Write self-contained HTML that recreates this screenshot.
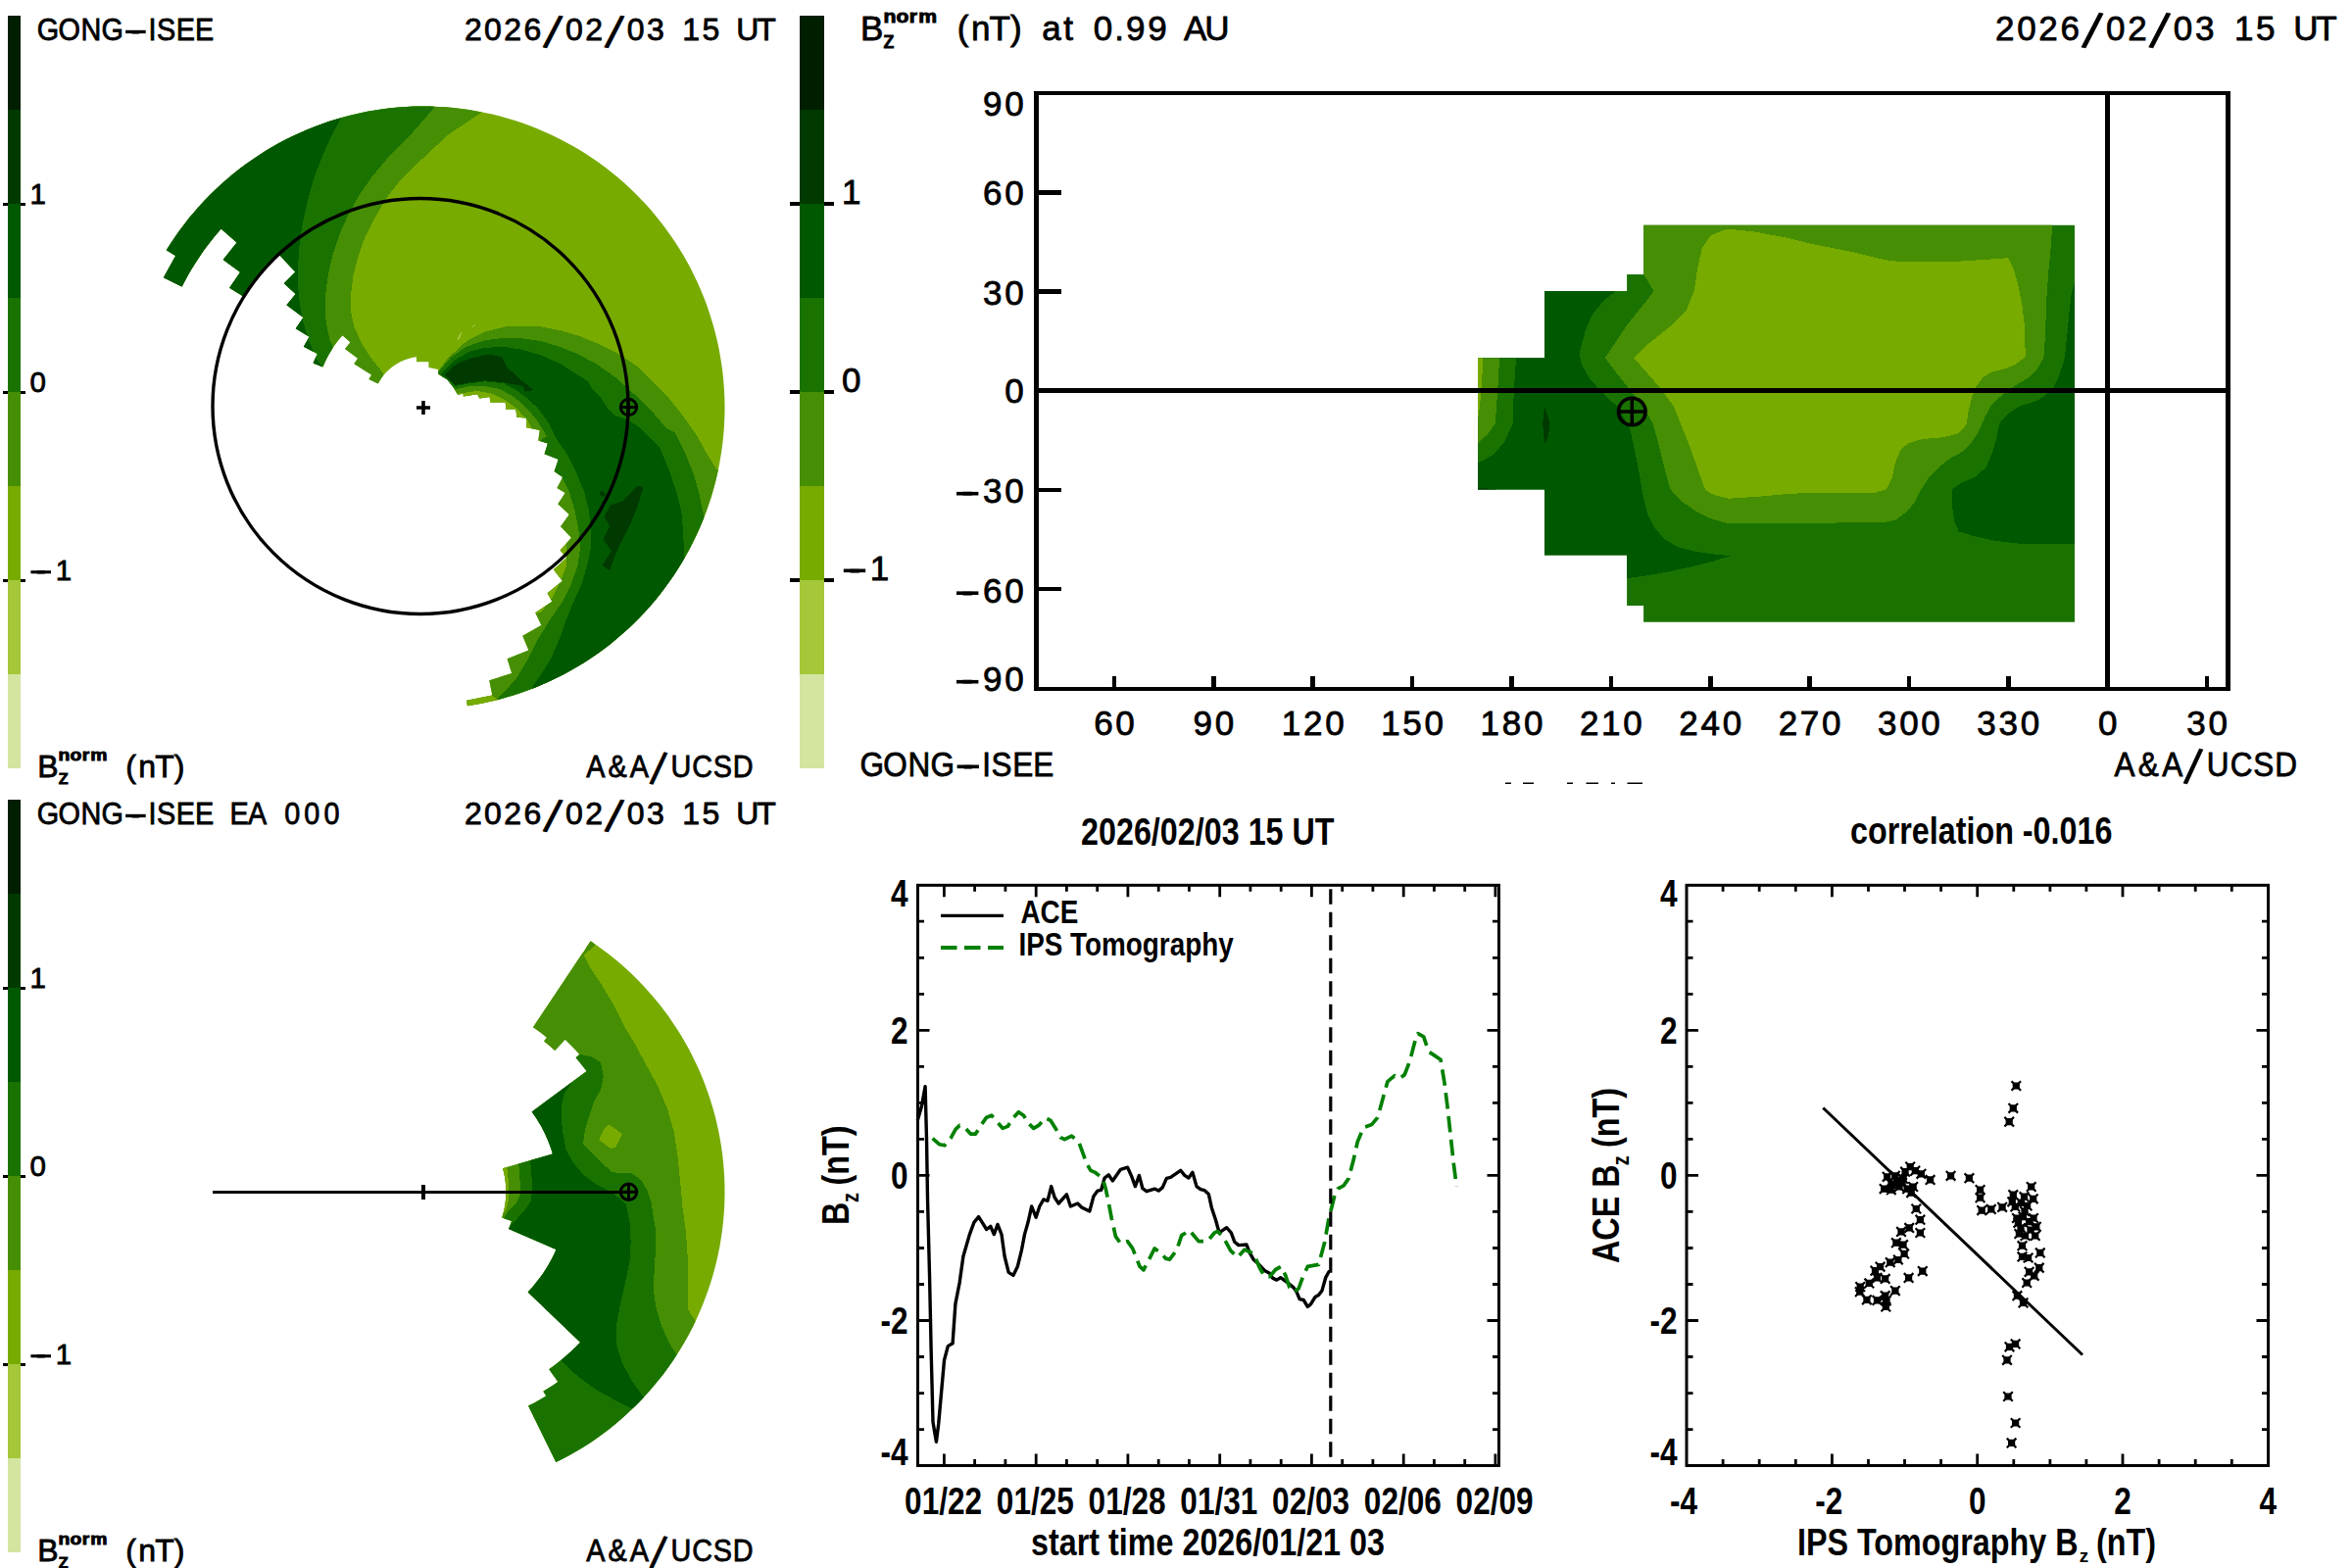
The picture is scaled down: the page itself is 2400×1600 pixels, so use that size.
<!DOCTYPE html>
<html><head><meta charset="utf-8"><title>IPS Tomography Bz</title>
<style>html,body{margin:0;padding:0;background:#fff}svg{display:block}
text{font-family:"Liberation Sans",sans-serif;fill:#000}
</style></head><body>
<svg width="2400" height="1600" viewBox="0 0 2400 1600">
<rect width="2400" height="1600" fill="#fff"/>
<clipPath id="c1"><polygon points="169.8,255.3 174.1,248.5 178.5,241.9 183.2,235.3 188.0,228.9 192.9,222.6 198.1,216.4 203.3,210.4 208.8,204.5 214.4,198.8 220.1,193.2 226.0,187.7 232.0,182.4 238.2,177.3 244.5,172.3 250.9,167.5 257.4,162.9 264.1,158.4 270.9,154.1 277.7,150.0 284.7,146.1 291.8,142.3 299.0,138.8 306.3,135.4 313.6,132.2 321.1,129.2 328.6,126.4 336.2,123.8 343.8,121.4 351.5,119.2 359.3,117.2 367.1,115.4 375.0,113.8 382.9,112.4 390.8,111.3 398.8,110.3 406.7,109.5 414.7,109.0 422.8,108.6 430.8,108.5 438.8,108.6 446.8,108.9 454.8,109.3 462.8,110.0 470.8,111.0 478.7,112.1 486.6,113.4 494.5,114.9 502.3,116.6 510.1,118.6 517.8,120.7 525.5,123.1 533.1,125.6 540.6,128.3 548.1,131.3 555.5,134.4 562.8,137.7 570.0,141.2 577.1,144.9 584.1,148.8 591.1,152.8 597.9,157.1 604.6,161.5 611.1,166.1 617.6,170.8 623.9,175.7 630.1,180.8 636.2,186.1 642.1,191.5 647.9,197.0 653.5,202.7 659.0,208.6 664.4,214.6 669.5,220.7 674.5,227.0 679.4,233.4 684.1,239.9 688.6,246.5 692.9,253.3 697.1,260.1 701.0,267.1 704.8,274.1 708.4,281.3 711.8,288.6 715.1,295.9 718.1,303.3 721.0,310.8 723.6,318.4 726.0,326.0 728.3,333.7 730.3,341.5 732.2,349.3 733.8,357.1 735.2,365.0 736.5,372.9 737.5,380.9 738.3,388.9 738.9,396.9 739.3,404.9 739.5,412.9 739.5,420.9 739.2,428.9 738.8,436.9 738.1,444.9 737.3,452.9 736.2,460.8 734.9,468.8 733.5,476.6 731.8,484.5 729.9,492.3 727.8,500.0 725.5,507.7 723.0,515.3 720.3,522.9 717.4,530.4 714.4,537.8 711.1,545.1 707.6,552.3 704.0,559.5 700.1,566.5 696.1,573.4 691.9,580.3 687.6,587.0 683.0,593.6 678.3,600.1 673.4,606.5 668.4,612.7 663.2,618.8 657.8,624.7 652.3,630.6 646.6,636.2 640.8,641.7 634.8,647.1 628.7,652.3 622.5,657.4 616.2,662.3 609.7,667.0 603.1,671.5 596.3,675.9 589.5,680.1 582.6,684.1 575.5,687.9 568.4,691.6 561.2,695.1 553.8,698.3 546.4,701.4 539.0,704.3 531.4,707.0 523.8,709.5 516.1,711.8 508.4,713.9 500.6,715.8 492.7,717.4 484.8,718.9 476.9,720.2 476.3,714.7 502.3,709.5 499.3,694.2 522.2,687.1 517.6,672.2 539.4,663.6 533.3,648.8 552.4,638.1 546.3,625.3 563.3,613.8 558.6,605.2 573.9,592.8 564.9,581.3 578.3,568.9 571.6,561.6 583.0,548.8 572.1,537.3 580.8,524.9 569.3,514.3 576.7,503.1 568.4,498.0 574.2,486.9 565.6,481.1 569.8,468.7 555.6,463.3 558.9,452.4 549.3,449.6 550.7,439.0 537.3,436.2 536.9,426.6 527.3,425.7 526.4,417.6 516.2,417.6 515.8,410.4 500.5,410.4 499.6,405.0 489.4,406.5 487.1,402.3 472.8,404.6 472.8,401.7 467.0,402.7 462.3,395.0 456.5,387.4 447.0,381.7 447.0,376.9 437.4,375.0 437.4,369.2 425.0,369.2 425.0,364.4 424.7,364.2 421.2,364.8 417.8,365.7 414.4,366.7 411.2,368.0 408.0,369.5 404.9,371.3 401.9,373.2 399.1,375.3 396.4,377.7 393.9,380.1 391.6,382.8 389.4,385.6 387.5,388.5 385.7,391.6 376.4,387.0 379.1,382.4 361.3,371.2 365.1,365.7 352.0,356.0 357.5,349.3 349.5,342.2 349.5,342.2 347.0,345.1 344.6,348.1 342.3,351.1 340.1,354.2 338.1,357.4 336.1,360.7 334.3,364.0 332.5,367.4 330.9,370.9 329.4,374.4 319.6,370.4 323.9,360.9 309.9,353.8 315.6,343.8 301.8,335.3 309.5,324.0 292.5,311.2 301.7,299.9 289.8,289.3 301.4,277.4 284.7,259.7 284.7,259.7 279.7,264.6 274.8,269.6 270.1,274.9 265.5,280.2 261.2,285.8 257.0,291.4 253.0,297.2 249.2,303.1 234.2,293.8 245.1,277.7 227.7,264.9 241.7,247.6 225.6,233.4 225.6,233.4 219.8,240.2 214.2,247.2 208.8,254.3 203.7,261.7 198.8,269.2 194.1,276.8 189.7,284.7 185.6,292.6 166.9,283.2 179.2,261.1"/></clipPath>
<g clip-path="url(#c1)" shape-rendering="crispEdges">
<rect x="100" y="80" width="680" height="680" fill="#77ab00"/>
<polygon points="491.8,60.0 491.8,114.4 457.4,137.4 428.7,164.2 408.3,184.2 394.9,201.4 382.4,222.4 371.9,243.5 365.2,262.6 360.4,281.7 358.1,300.9 358.5,320.0 361.4,333.4 368.1,348.7 377.7,364.0 391.4,381.2 385.0,420.0 100.0,420.0 100.0,60.0" fill="#468e04" />
<polygon points="444.5,60.0 444.5,108.2 421.7,134.4 398.7,157.4 379.6,180.3 366.2,199.5 355.7,218.6 347.0,237.7 340.4,256.9 335.6,276.0 332.7,295.1 331.7,310.4 332.7,329.6 336.5,346.8 339.8,354.4 330.0,380.0 100.0,420.0 100.0,60.0" fill="#1a7300" />
<polygon points="348.0,60.0 348.0,120.1 338.4,138.3 329.8,157.4 322.2,176.5 316.4,195.7 311.7,214.8 307.8,233.9 305.3,253.0 304.0,272.2 304.0,291.3 305.9,310.4 309.7,329.6 315.5,348.7 323.1,365.9 327.0,372.0 332.0,381.0 315.0,392.0 100.0,420.0 100.0,60.0" fill="#005800" />
<polygon points="466.5,346.0 470.5,339.0 471.0,341.0 468.0,347.0" fill="#a5c73a" />
<polygon points="481.0,334.0 485.0,330.5 484.0,333.0" fill="#a5c73a" />
<polygon points="447.8,377.5 457.4,365.0 476.5,347.8 495.7,338.3 514.8,333.5 533.9,332.5 553.0,333.5 572.2,337.3 591.3,343.0 610.4,350.7 629.6,360.3 648.7,372.7 663.5,387.4 682.6,406.5 697.9,425.7 711.3,444.8 721.8,463.9 731.4,479.2 800.0,480.0 800.0,800.0 450.0,800.0 450.0,720.0 540.0,600.0 560.0,500.0 540.0,445.0 500.0,418.0 465.0,408.0 447.0,388.0" fill="#468e04" />
<polygon points="467.0,401.7 487.1,398.9 502.4,401.7 515.8,408.4 527.3,417.0 538.8,429.5 542.6,437.1 530.0,445.0 500.0,420.0 465.0,410.0" fill="#77ab00" />
<polygon points="576.5,545.0 578.3,557.4 578.3,576.5 572.5,591.8 563.9,609.0 552.4,624.4 546.0,626.5 538.0,628.0 545.0,600.0 560.0,560.0 565.0,545.0" fill="#77ab00" />
<polygon points="470.0,712.0 476.0,722.0 510.0,716.0 498.0,706.0" fill="#77ab00" />
<polygon points="447.0,380.0 460.4,364.4 475.7,353.9 494.8,347.2 513.9,344.9 533.0,345.3 552.2,348.2 571.3,353.9 590.4,361.6 609.6,372.1 628.7,385.5 647.8,402.7 667.0,421.8 680.0,437.1 688.3,441.0 699.8,463.9 707.5,483.1 713.2,502.2 717.0,521.3 718.5,527.0 800.0,527.0 800.0,800.0 507.5,800.0 507.5,713.3 514.2,706.6 527.6,691.3 539.0,672.2 548.6,653.0 560.1,633.9 573.5,614.8 583.0,595.7 589.7,576.5 592.2,557.4 590.4,540.5 586.6,521.3 580.9,502.2 574.2,488.8 560.0,485.0 545.0,455.0 557.9,444.8 548.4,429.5 538.8,418.0 525.4,405.6 510.1,397.0 494.8,394.1 479.5,394.1 465.1,397.0 456.0,390.0" fill="#1a7300" />
<polygon points="449.8,382.0 464.2,367.3 479.5,358.7 494.8,354.9 513.9,353.9 533.0,356.8 552.2,362.5 571.3,371.1 586.6,380.7 600.0,389.3 604.2,397.0 613.7,406.5 619.5,416.1 627.1,423.7 638.6,427.6 650.1,434.3 661.6,444.8 673.0,456.3 682.6,479.2 690.3,502.2 695.1,521.3 697.0,540.5 697.9,559.6 698.3,568.2 760.0,600.0 760.0,760.0 560.0,760.0 542.9,701.8 552.4,687.5 562.0,672.2 570.6,653.0 577.3,633.9 585.0,614.8 593.6,595.7 599.3,576.5 602.8,559.6 603.1,540.5 601.0,521.3 596.2,502.2 588.5,483.1 579.0,463.9 569.4,450.5 559.8,431.4 548.4,416.1 536.9,405.6 525.4,397.0 513.9,391.2 494.8,389.3 479.5,391.2 464.2,394.1 458.0,388.0" fill="#005800" />
<polygon points="453.7,382.6 466.1,371.1 481.4,365.4 498.6,361.6 512.0,364.0 517.7,375.0 531.1,387.4 544.5,397.9 535.9,399.8 534.0,394.1 513.9,390.3 494.8,388.3 479.5,390.3 464.2,393.1 459.4,388.4" fill="#003a00" />
<polygon points="650.7,495.5 656.4,497.4 651.7,513.7 644.0,532.8 634.4,551.9 626.8,569.1 622.0,582.5 614.4,576.8 623.9,562.4 615.3,550.0 622.0,536.6 616.3,527.0 623.0,515.6 634.4,511.7 644.0,502.2" fill="#003a00" />
<polygon points="611.5,503.0 615.0,500.3 618.2,505.0 615.0,507.5" fill="#003a00" />
</g>
<ellipse cx="429" cy="414.5" rx="212" ry="212" fill="none" stroke="#000" stroke-width="3.4"/>
<path d="M425 416H439M432 409V423" stroke="#000" stroke-width="3.6" fill="none"/>
<g stroke="#000" stroke-width="3" fill="none"><circle cx="641.5" cy="415.5" r="8.2"/><path d="M633 415.5H650M641.5 407V424"/></g>
<clipPath id="c2"><polygon points="1508.0,365.2 1576.0,365.2 1576.0,297.1 1660.1,297.1 1660.1,279.9 1677.1,279.9 1677.1,229.7 2117.0,229.7 2117.0,634.8 1677.1,634.8 1677.1,617.9 1660.1,617.9 1660.1,566.5 1576.0,566.5 1576.0,499.6 1508.0,499.6"/></clipPath>
<g clip-path="url(#c2)" shape-rendering="crispEdges">
<rect x="1500" y="220" width="630" height="420" fill="#1a7300"/>
<polygon points="1648.5,200.0 1648.5,297.1 1636.3,307.1 1625.1,320.5 1617.3,338.4 1611.7,360.7 1613.9,371.9 1622.9,387.5 1636.3,402.0 1649.6,414.3 1663.0,436.6 1667.5,456.7 1672.0,479.0 1676.4,505.0 1680.9,523.5 1688.7,539.3 1698.8,550.4 1712.1,558.3 1730.0,562.7 1747.9,565.4 1765.7,567.2 1747.9,572.8 1725.5,578.3 1703.2,583.3 1680.9,587.3 1660.1,590.2 1400.0,590.2 1400.0,200.0" fill="#005800" />
<polygon points="1547.0,300.0 1547.0,365.2 1544.7,400.9 1543.6,432.1 1535.8,450.0 1524.6,463.4 1507.9,472.8 1400.0,472.8 1400.0,300.0" fill="#1a7300" />
<polygon points="1530.2,300.0 1530.2,365.2 1528.0,400.9 1525.8,432.1 1517.9,443.3 1507.9,452.2 1400.0,452.2 1400.0,300.0" fill="#468e04" />
<polygon points="1500.0,360.0 1513.5,365.0 1512.0,390.0 1510.0,415.0 1508.0,428.0 1500.0,428.0" fill="#77ab00" />
<polygon points="1576.0,414.3 1581.6,432.1 1579.3,447.8 1576.0,453.3 1574.2,432.1" fill="#003a00" />
<polygon points="1508.0,497.5 1528.0,499.6 1508.0,499.6" fill="#003a00" />
<polygon points="2117.0,287.1 2113.6,300.4 2111.4,320.5 2109.2,342.9 2106.9,365.2 2101.3,383.0 2094.6,396.4 2087.9,403.1 2076.8,409.8 2061.2,414.3 2047.8,423.2 2040.0,432.1 2037.1,447.8 2033.3,461.2 2026.6,476.8 2015.4,486.8 2002.0,492.4 1992.0,499.1 1992.0,517.0 1994.6,532.6 1998.7,542.3 2014.3,547.1 2034.4,551.6 2052.2,553.8 2067.9,555.4 2117.0,554.9 2200.0,554.9 2200.0,287.1" fill="#005800" />
<polygon points="1677.1,279.9 1687.6,297.1 1676.4,311.6 1658.6,333.9 1645.2,354.0 1638.0,365.2 1649.6,380.8 1663.0,397.5 1676.4,414.3 1686.5,432.1 1692.1,452.2 1697.6,474.6 1704.3,499.1 1714.4,510.3 1730.0,521.4 1745.6,529.2 1761.3,533.7 1830.0,534.2 1855.8,533.7 1922.8,533.0 1933.9,530.8 1945.1,522.5 1954.0,512.5 1960.7,499.1 1968.5,486.8 1978.6,476.8 1989.7,467.9 2002.0,461.2 2012.1,451.1 2019.9,438.8 2025.4,425.4 2032.1,413.2 2045.5,400.9 2056.7,393.1 2070.1,385.3 2079.0,376.3 2085.3,365.2 2086.4,351.8 2087.5,327.2 2088.6,300.4 2090.2,278.1 2092.4,255.8 2094.2,229.7 2094.2,200.0 1677.1,200.0" fill="#468e04" />
<polygon points="1762.4,233.5 1745.6,240.2 1736.7,253.6 1732.2,273.7 1728.9,296.0 1721.1,316.1 1703.2,333.9 1680.9,351.8 1667.1,365.2 1680.9,380.8 1694.3,396.4 1707.7,414.3 1716.6,436.6 1725.5,458.9 1733.3,481.3 1740.0,499.6 1747.9,504.7 1763.5,508.7 1792.5,506.9 1822.3,504.2 1840.2,503.1 1913.8,502.7 1925.0,499.1 1930.6,487.9 1933.9,472.3 1939.5,458.9 1947.3,452.2 1960.7,448.2 1983.0,446.2 1998.7,442.2 2006.5,433.3 2008.7,418.8 2012.1,405.4 2016.5,394.2 2023.2,385.3 2032.1,379.7 2045.5,376.3 2056.7,371.9 2066.7,364.1 2066.1,333.9 2063.4,311.6 2058.9,289.3 2054.5,273.7 2048.9,263.2 2034.4,264.3 2000.9,266.5 1956.3,267.4 1929.5,266.3 1911.6,262.5 1889.3,256.9 1867.0,252.5 1844.6,248.0 1822.3,242.4 1800.0,238.4 1792.5,236.8" fill="#77ab00" />
</g>
<g stroke="#000" stroke-width="4.4" fill="none" shape-rendering="crispEdges">
<rect x="1057.5" y="95.0" width="1216.2" height="607.8"/>
<path d="M1057.5 398.5H2273.7 M2150.5 95.0V702.8"/>
<path d="M1057.5 196.2h25M1057.5 297.4h25M1057.5 499.8h25M1057.5 601.0h25M1137.0 702.8v-13M1238.4 702.8v-13M1339.7 702.8v-13M1441.1 702.8v-13M1542.5 702.8v-13M1643.8 702.8v-13M1745.2 702.8v-13M1846.6 702.8v-13M1948.0 702.8v-13M2049.3 702.8v-13M2252.1 702.8v-13" stroke-width="4.6"/>
</g>
<g stroke="#000" stroke-width="3.6" fill="none"><circle cx="1665.3" cy="420" r="13.8"/><path d="M1651.5 420H1679M1665.3 406V434"/></g>
<path d="M1536 799.3h6M1554 799.3h11M1599 799.3h6M1618.5 799.3h12.5M1644 799.3h4M1660.5 799.3h15.5" stroke="#000" stroke-width="1.6"/>
<clipPath id="c3"><polygon points="602.6,960.2 609.2,964.7 615.6,969.4 622.0,974.2 628.2,979.2 634.2,984.3 640.2,989.7 645.9,995.1 651.6,1000.7 657.1,1006.5 662.4,1012.4 667.6,1018.4 672.7,1024.6 677.6,1030.9 682.3,1037.3 686.8,1043.9 691.2,1050.5 695.4,1057.3 699.4,1064.2 703.2,1071.1 706.9,1078.2 710.4,1085.4 713.7,1092.6 716.8,1100.0 719.7,1107.4 722.4,1114.9 724.9,1122.4 727.2,1130.0 729.4,1137.7 731.3,1145.4 733.0,1153.2 734.5,1161.0 735.9,1168.9 737.0,1176.8 737.9,1184.7 738.6,1192.6 739.1,1200.6 739.4,1208.5 739.5,1216.5 739.4,1224.4 739.1,1232.4 738.5,1240.4 737.8,1248.3 736.9,1256.2 735.7,1264.1 734.4,1271.9 732.8,1279.7 731.1,1287.5 729.1,1295.2 727.0,1302.9 724.6,1310.5 722.1,1318.0 719.3,1325.5 716.4,1332.9 713.3,1340.3 710.0,1347.5 706.5,1354.7 702.8,1361.7 698.9,1368.7 694.9,1375.5 690.7,1382.3 686.3,1388.9 681.7,1395.5 677.0,1401.9 672.1,1408.1 667.0,1414.3 661.8,1420.3 656.4,1426.2 650.9,1431.9 645.2,1437.5 639.4,1443.0 633.5,1448.3 627.4,1453.4 621.2,1458.4 614.9,1463.2 608.4,1467.9 601.8,1472.4 595.1,1476.7 588.3,1480.8 581.4,1484.8 574.4,1488.5 567.3,1492.1 539.1,1434.6 539.1,1434.6 545.3,1431.4 551.4,1428.1 557.4,1424.6 554.4,1419.7 554.4,1419.7 559.5,1416.6 564.5,1413.4 569.4,1410.0 560.3,1397.2 560.3,1397.2 566.0,1393.0 571.5,1388.7 576.9,1384.2 582.2,1379.5 587.3,1374.7 592.2,1369.7 538.7,1318.4 538.7,1318.4 542.0,1314.9 545.1,1311.3 548.1,1307.6 551.0,1303.8 553.8,1299.9 556.4,1296.0 558.9,1291.9 561.3,1287.8 563.6,1283.6 565.7,1279.3 567.6,1275.0 519.1,1253.9 519.1,1253.9 520.2,1251.3 521.2,1248.6 522.1,1246.0 512.1,1242.6 512.1,1242.6 512.9,1239.9 513.7,1237.2 514.4,1234.4 514.9,1231.7 515.4,1228.9 515.8,1226.0 516.1,1223.2 516.3,1220.4 516.4,1217.5 516.4,1214.7 516.3,1211.9 516.1,1209.0 515.8,1206.2 515.5,1203.4 515.0,1200.6 514.4,1197.8 513.8,1195.1 513.0,1192.3 564.0,1177.4 564.0,1177.4 562.7,1173.2 561.2,1169.1 559.7,1165.0 558.0,1160.9 556.2,1156.9 554.2,1153.0 552.2,1149.1 550.0,1145.4 547.6,1141.6 545.2,1138.0 542.7,1134.4 598.7,1093.1 598.7,1093.1 595.1,1088.4 591.4,1083.8 587.6,1079.3 591.4,1075.9 591.4,1075.9 586.7,1070.7 581.8,1065.7 576.7,1060.8 566.2,1072.1 566.2,1072.1 562.6,1068.8 558.9,1065.5 555.0,1062.4 558.0,1058.7 558.0,1058.7 553.4,1055.1 548.7,1051.6 543.9,1048.3"/></clipPath>
<g clip-path="url(#c3)" shape-rendering="crispEdges">
<rect x="480" y="900" width="300" height="640" fill="#77ab00"/>
<polygon points="560.0,940.0 593.0,970.0 595.7,974.4 602.4,987.8 613.9,1005.0 625.4,1024.2 636.9,1047.1 648.4,1066.3 659.8,1087.3 671.3,1108.4 680.9,1131.3 687.6,1154.3 691.4,1179.1 694.3,1207.8 696.5,1232.0 700.0,1257.4 701.9,1286.1 702.3,1314.8 701.9,1335.8 708.6,1346.4 716.0,1360.0 716.0,1560.0 400.0,1560.0 400.0,940.0" fill="#468e04" />
<polygon points="601.5,958.0 607.5,964.5 594.0,976.0" fill="#468e04" />
<polygon points="505.0,1185.0 517.3,1191.6 519.2,1207.8 519.2,1223.1 516.0,1236.0 505.0,1245.0" fill="#77ab00" />
<polygon points="621.6,1147.6 635.0,1157.1 628.3,1170.5 623.5,1171.9 611.1,1163.5 616.8,1151.4" fill="#77ab00" />
<polygon points="580.0,1070.0 591.0,1075.4 604.4,1078.7 613.0,1084.4 615.8,1098.8 613.0,1112.2 606.3,1123.7 600.5,1140.9 596.7,1154.3 594.8,1167.7 604.4,1177.2 613.9,1186.8 625.4,1196.4 644.5,1197.3 654.1,1204.0 660.8,1215.5 664.6,1227.0 666.5,1240.0 669.4,1257.4 668.4,1286.1 666.5,1314.8 669.4,1333.9 675.1,1353.1 682.8,1370.3 689.9,1381.7 700.0,1395.0 700.0,1560.0 400.0,1560.0 400.0,1250.0 510.0,1250.0 518.3,1236.5 525.9,1228.9 530.7,1219.3 530.7,1207.8 529.4,1188.1 527.0,1180.0 540.0,1165.0 530.0,1130.0 560.0,1100.0" fill="#1a7300" />
<polygon points="583.3,1104.5 575.7,1116.0 572.8,1127.5 572.8,1142.8 574.7,1158.1 577.6,1173.4 585.2,1186.8 594.8,1198.3 610.1,1209.8 625.4,1217.3 638.8,1228.7 642.6,1247.8 643.6,1267.0 642.6,1286.1 638.8,1305.2 633.1,1330.1 628.8,1353.1 629.2,1372.2 635.0,1391.3 644.5,1408.5 656.0,1424.8 662.0,1432.0 644.5,1437.2 627.3,1428.6 610.1,1419.1 594.8,1408.5 583.3,1399.0 572.8,1388.4 560.0,1376.0 500.0,1376.0 505.0,1260.0 522.0,1250.0 528.0,1243.0 535.5,1234.6 542.2,1225.1 543.1,1207.8 541.2,1185.3 539.0,1176.0 545.0,1165.0 535.0,1130.0" fill="#005800" />
</g>
<path d="M217 1216.3H641.5M432 1209V1223.5" stroke="#000" stroke-width="3.4" fill="none" shape-rendering="crispEdges"/>
<g stroke="#000" stroke-width="3" fill="none"><circle cx="641.5" cy="1216.3" r="8.2"/><path d="M633 1216.3H650M641.5 1207.8V1224.8"/></g>
<clipPath id="c4"><rect x="800" y="800" width="1600" height="795.3"/></clipPath><g clip-path="url(#c4)">
<g stroke="#000" fill="none" stroke-width="3">
<rect x="936.5" y="903.3" width="593" height="592.2"/>
<path d="M963.4 903.3v12M963.4 1495.5v-12M1057.2 903.3v12M1057.2 1495.5v-12M1150.9 903.3v12M1150.9 1495.5v-12M1244.7 903.3v12M1244.7 1495.5v-12M1338.4 903.3v12M1338.4 1495.5v-12M1432.2 903.3v12M1432.2 1495.5v-12M1525.9 903.3v12M1525.9 1495.5v-12M994.6 903.3v6.5M994.6 1495.5v-6.5M1025.9 903.3v6.5M1025.9 1495.5v-6.5M1088.4 903.3v6.5M1088.4 1495.5v-6.5M1119.7 903.3v6.5M1119.7 1495.5v-6.5M1182.2 903.3v6.5M1182.2 1495.5v-6.5M1213.4 903.3v6.5M1213.4 1495.5v-6.5M1275.9 903.3v6.5M1275.9 1495.5v-6.5M1307.2 903.3v6.5M1307.2 1495.5v-6.5M1369.7 903.3v6.5M1369.7 1495.5v-6.5M1400.9 903.3v6.5M1400.9 1495.5v-6.5M1463.4 903.3v6.5M1463.4 1495.5v-6.5M1494.7 903.3v6.5M1494.7 1495.5v-6.5M936.5 1051.3h12M1529.5 1051.3h-12M936.5 1199.4h12M1529.5 1199.4h-12M936.5 1347.5h12M1529.5 1347.5h-12M936.5 940.2h6.5M1529.5 940.2h-6.5M936.5 977.3h6.5M1529.5 977.3h-6.5M936.5 1014.3h6.5M1529.5 1014.3h-6.5M936.5 1088.3h6.5M1529.5 1088.3h-6.5M936.5 1125.4h6.5M1529.5 1125.4h-6.5M936.5 1162.4h6.5M1529.5 1162.4h-6.5M936.5 1236.4h6.5M1529.5 1236.4h-6.5M936.5 1273.5h6.5M1529.5 1273.5h-6.5M936.5 1310.5h6.5M1529.5 1310.5h-6.5M936.5 1384.5h6.5M1529.5 1384.5h-6.5M936.5 1421.6h6.5M1529.5 1421.6h-6.5M936.5 1458.6h6.5M1529.5 1458.6h-6.5" stroke-width="2.8"/>
</g>
<polyline points="936.3,1143.3 940.4,1129.0 944.1,1108.6 945.5,1161.6 946.5,1222.9 948.6,1304.5 950.1,1376.5 952.0,1451.1 955.4,1471.2 957.7,1453.0 960.6,1420.5 963.5,1388.0 967.3,1373.6 972.1,1370.8 974.9,1330.6 979.2,1308.6 982.9,1282.0 989.4,1259.6 993.9,1247.3 998.6,1241.6 1006.7,1254.5 1010.8,1251.4 1014.3,1259.6 1018.0,1249.4 1022.0,1259.6 1025.1,1282.0 1029.2,1298.4 1033.9,1301.4 1038.4,1292.2 1042.4,1275.9 1045.5,1259.6 1049.0,1247.3 1052.7,1231.0 1057.1,1242.2 1060.8,1231.0 1064.9,1223.9 1069.0,1225.3 1072.7,1210.6 1076.1,1221.8 1080.2,1228.0 1088.4,1218.8 1092.4,1231.0 1099.6,1228.0 1103.7,1232.0 1111.8,1236.1 1115.9,1220.8 1120.0,1215.1 1123.7,1214.3 1127.1,1202.0 1131.2,1198.8 1135.3,1204.9 1143.5,1193.3 1150.6,1191.2 1154.7,1200.4 1158.4,1210.6 1162.4,1199.4 1165.9,1212.7 1170.0,1215.7 1178.2,1213.1 1182.2,1215.1 1186.3,1211.6 1190.4,1202.4 1194.5,1201.4 1204.7,1194.3 1208.8,1199.4 1212.9,1202.0 1216.9,1196.3 1221.0,1210.6 1225.1,1213.7 1229.2,1214.7 1233.3,1218.4 1236.3,1232.2 1240.4,1244.5 1244.1,1257.8 1251.6,1252.7 1256.3,1257.8 1259.8,1267.3 1263.9,1270.6 1272.0,1270.0 1275.1,1278.2 1279.2,1285.3 1283.3,1289.0 1290.4,1296.5 1295.5,1299.2 1298.6,1304.1 1302.7,1306.1 1306.7,1303.7 1313.9,1308.8 1320.0,1313.9 1323.1,1318.4 1326.1,1325.7 1330.2,1326.5 1334.3,1333.3 1337.3,1331.2 1342.0,1323.5 1345.5,1321.6 1349.0,1316.9 1352.7,1303.7 1356.7,1296.5" fill="none" stroke="#000" stroke-width="3.4" stroke-linejoin="round"/>
<polyline points="951.6,1161.6 958.8,1167.8 963.9,1168.8 970.0,1161.6 975.1,1152.4 979.2,1148.4 985.3,1151.4 990.4,1157.1 995.5,1157.1 1001.6,1147.3 1006.7,1140.2 1011.8,1138.2 1018.0,1145.3 1023.1,1151.4 1028.2,1149.4 1034.3,1140.2 1039.4,1134.7 1044.5,1138.2 1049.6,1146.3 1054.7,1151.4 1059.8,1148.4 1066.9,1140.8 1072.0,1143.3 1077.1,1151.4 1082.2,1160.6 1086.3,1162.7 1093.5,1159.2 1100.6,1164.7 1104.7,1175.9 1108.8,1187.1 1112.9,1194.3 1118.0,1196.7 1125.1,1202.4 1128.2,1212.7 1131.2,1226.9 1134.3,1243.3 1138.4,1261.6 1143.5,1268.8 1150.6,1266.7 1155.7,1273.9 1159.8,1284.1 1162.9,1292.2 1166.9,1295.9 1172.0,1286.1 1178.2,1273.9 1185.3,1279.0 1189.4,1284.1 1193.5,1285.1 1200.6,1275.9 1205.7,1260.6 1213.9,1255.5 1223.1,1266.7 1232.2,1266.5 1239.4,1257.8 1242.4,1256.3 1248.6,1262.9 1255.7,1276.1 1262.9,1282.9 1270.0,1275.1 1279.2,1279.2 1285.3,1293.5 1290.4,1302.7 1295.5,1302.7 1301.6,1295.5 1307.3,1292.4 1311.8,1301.6 1315.9,1313.9 1320.0,1318.4 1325.1,1314.9 1329.2,1303.7 1334.3,1292.4 1345.5,1290.4 1351.6,1268.0 1355.7,1244.5 1359.8,1228.2 1361.8,1220.0 1365.3,1212.9 1371.0,1209.8 1376.1,1202.7 1381.2,1183.3 1385.3,1164.9 1391.4,1150.6 1399.6,1147.6 1405.7,1140.4 1410.8,1122.0 1415.9,1103.7 1423.1,1097.6 1428.2,1100.6 1433.3,1096.5 1438.4,1083.3 1443.5,1063.9 1446.9,1054.7 1452.7,1057.8 1457.8,1073.1 1463.9,1077.1 1470.0,1081.2 1474.1,1105.7 1477.1,1130.2 1480.2,1158.8 1483.3,1187.3 1486.3,1210.8" fill="none" stroke="#008000" stroke-width="3.7" stroke-dasharray="16.5 7.5" stroke-linejoin="round"/>
<path d="M1357.8 907.3V1495.5" stroke="#000" stroke-width="3.2" stroke-dasharray="15.5 8" fill="none"/>
<path d="M960 934.4H1024" stroke="#000" stroke-width="3.4"/>
<path d="M960 967H1024" stroke="#008000" stroke-width="4" stroke-dasharray="16.5 7.5"/>
<text transform="translate(1041.4 941.6) scale(0.82 1)" font-size="34" font-weight="bold" text-anchor="start" >ACE</text>
<text transform="translate(1039.4 974.7) scale(0.82 1)" font-size="34" font-weight="bold" text-anchor="start" >IPS Tomography</text>
<text transform="translate(1232.3 862.2) scale(0.82 1)" font-size="39.4" font-weight="bold" text-anchor="middle" >2026/02/03 15 UT</text>
<text transform="translate(962.6 1544.8) scale(0.82 1)" font-size="38.5" font-weight="bold" text-anchor="middle" >01/22</text>
<text transform="translate(1056.35 1544.8) scale(0.82 1)" font-size="38.5" font-weight="bold" text-anchor="middle" >01/25</text>
<text transform="translate(1150.1 1544.8) scale(0.82 1)" font-size="38.5" font-weight="bold" text-anchor="middle" >01/28</text>
<text transform="translate(1243.85 1544.8) scale(0.82 1)" font-size="38.5" font-weight="bold" text-anchor="middle" >01/31</text>
<text transform="translate(1337.6 1544.8) scale(0.82 1)" font-size="38.5" font-weight="bold" text-anchor="middle" >02/03</text>
<text transform="translate(1431.35 1544.8) scale(0.82 1)" font-size="38.5" font-weight="bold" text-anchor="middle" >02/06</text>
<text transform="translate(1525.1 1544.8) scale(0.82 1)" font-size="38.5" font-weight="bold" text-anchor="middle" >02/09</text>
<text transform="translate(1232.5 1587) scale(0.82 1)" font-size="39.4" font-weight="bold" text-anchor="middle" >start time 2026/01/21 03</text>
<text transform="translate(926.6 925.2) scale(0.82 1)" font-size="38.5" font-weight="bold" text-anchor="end" >4</text>
<text transform="translate(926.6 1064.5) scale(0.82 1)" font-size="38.5" font-weight="bold" text-anchor="end" >2</text>
<text transform="translate(926.6 1212.6) scale(0.82 1)" font-size="38.5" font-weight="bold" text-anchor="end" >0</text>
<text transform="translate(926.6 1360.7) scale(0.82 1)" font-size="38.5" font-weight="bold" text-anchor="end" >-2</text>
<text transform="translate(926.6 1495.3) scale(0.82 1)" font-size="38.5" font-weight="bold" text-anchor="end" >-4</text>
<g transform="translate(866.3 1199) rotate(-90)"><text transform="translate(-51 0) scale(0.82 1)" font-size="39.4" font-weight="bold" text-anchor="start" >B</text><text transform="translate(-28 10) scale(0.82 1)" font-size="24.4" font-weight="bold" text-anchor="start" >z</text><text transform="translate(-10.5 0) scale(0.82 1)" font-size="39.4" font-weight="bold" text-anchor="start" >(nT)</text></g>
<g stroke="#000" fill="none" stroke-width="3">
<rect x="1721" y="903.3" width="593.5" height="592.2"/>
<path d="M1869.4 903.3v12M1869.4 1495.5v-12M2017.7 903.3v12M2017.7 1495.5v-12M2166.0 903.3v12M2166.0 1495.5v-12M1758.1 903.3v6.5M1758.1 1495.5v-6.5M1795.2 903.3v6.5M1795.2 1495.5v-6.5M1832.3 903.3v6.5M1832.3 1495.5v-6.5M1906.5 903.3v6.5M1906.5 1495.5v-6.5M1943.5 903.3v6.5M1943.5 1495.5v-6.5M1980.6 903.3v6.5M1980.6 1495.5v-6.5M2054.8 903.3v6.5M2054.8 1495.5v-6.5M2091.9 903.3v6.5M2091.9 1495.5v-6.5M2128.9 903.3v6.5M2128.9 1495.5v-6.5M2203.1 903.3v6.5M2203.1 1495.5v-6.5M2240.2 903.3v6.5M2240.2 1495.5v-6.5M2277.3 903.3v6.5M2277.3 1495.5v-6.5M1721 1051.3h12M2314.5 1051.3h-12M1721 1199.4h12M2314.5 1199.4h-12M1721 1347.5h12M2314.5 1347.5h-12M1721 940.2h6.5M2314.5 940.2h-6.5M1721 977.3h6.5M2314.5 977.3h-6.5M1721 1014.3h6.5M2314.5 1014.3h-6.5M1721 1088.3h6.5M2314.5 1088.3h-6.5M1721 1125.4h6.5M2314.5 1125.4h-6.5M1721 1162.4h6.5M2314.5 1162.4h-6.5M1721 1236.4h6.5M2314.5 1236.4h-6.5M1721 1273.5h6.5M2314.5 1273.5h-6.5M1721 1310.5h6.5M2314.5 1310.5h-6.5M1721 1384.5h6.5M2314.5 1384.5h-6.5M1721 1421.6h6.5M2314.5 1421.6h-6.5M1721 1458.6h6.5M2314.5 1458.6h-6.5" stroke-width="2.8"/>
</g>
<path d="M1860.3 1130.5L2125 1382.5" stroke="#000" stroke-width="3"/>
<path d="M2053.7 1104.4h7.2v7.2h-7.2zM2050.7 1127.2h7.2v7.2h-7.2zM2046.6 1141.1h7.2v7.2h-7.2zM1922.1 1197.2h7.2v7.2h-7.2zM1930.3 1196.2h7.2v7.2h-7.2zM1945.6 1187.0h7.2v7.2h-7.2zM1940.5 1192.1h7.2v7.2h-7.2zM1950.7 1191.1h7.2v7.2h-7.2zM1956.8 1194.2h7.2v7.2h-7.2zM1966.0 1200.3h7.2v7.2h-7.2zM1919.1 1209.5h7.2v7.2h-7.2zM1926.2 1210.5h7.2v7.2h-7.2zM1934.4 1207.4h7.2v7.2h-7.2zM1942.5 1209.5h7.2v7.2h-7.2zM1948.6 1207.4h7.2v7.2h-7.2zM1946.6 1213.5h7.2v7.2h-7.2zM1932.3 1201.3h7.2v7.2h-7.2zM1938.4 1199.3h7.2v7.2h-7.2zM1987.0 1196.2h7.2v7.2h-7.2zM2005.8 1198.6h7.2v7.2h-7.2zM2017.0 1210.5h7.2v7.2h-7.2zM2017.0 1218.6h7.2v7.2h-7.2zM2018.6 1231.5h7.2v7.2h-7.2zM2028.2 1230.3h7.2v7.2h-7.2zM2039.5 1228.2h7.2v7.2h-7.2zM2069.1 1207.4h7.2v7.2h-7.2zM2050.7 1215.6h7.2v7.2h-7.2zM2061.9 1217.6h7.2v7.2h-7.2zM2071.1 1219.7h7.2v7.2h-7.2zM2049.7 1222.7h7.2v7.2h-7.2zM2058.8 1223.7h7.2v7.2h-7.2zM2065.0 1226.8h7.2v7.2h-7.2zM2052.7 1227.8h7.2v7.2h-7.2zM2060.9 1238.0h7.2v7.2h-7.2zM2055.8 1244.2h7.2v7.2h-7.2zM2067.0 1243.1h7.2v7.2h-7.2zM2074.2 1248.2h7.2v7.2h-7.2zM2056.8 1255.4h7.2v7.2h-7.2zM2062.9 1257.4h7.2v7.2h-7.2zM2073.1 1257.4h7.2v7.2h-7.2zM2059.9 1267.6h7.2v7.2h-7.2zM2078.2 1274.8h7.2v7.2h-7.2zM2059.9 1278.8h7.2v7.2h-7.2zM2066.0 1279.9h7.2v7.2h-7.2zM2077.2 1290.1h7.2v7.2h-7.2zM2067.0 1294.2h7.2v7.2h-7.2zM2072.1 1298.2h7.2v7.2h-7.2zM2064.6 1305.4h7.2v7.2h-7.2zM2054.8 1318.6h7.2v7.2h-7.2zM2060.9 1325.8h7.2v7.2h-7.2zM2053.0 1367.8h7.2v7.2h-7.2zM2046.9 1370.7h7.2v7.2h-7.2zM2044.4 1384.2h7.2v7.2h-7.2zM2045.4 1421.4h7.2v7.2h-7.2zM2053.0 1448.4h7.2v7.2h-7.2zM2049.0 1468.8h7.2v7.2h-7.2zM1951.7 1229.9h7.2v7.2h-7.2zM1955.8 1241.1h7.2v7.2h-7.2zM1944.6 1249.3h7.2v7.2h-7.2zM1936.4 1253.3h7.2v7.2h-7.2zM1955.8 1254.4h7.2v7.2h-7.2zM1931.3 1264.6h7.2v7.2h-7.2zM1938.4 1266.6h7.2v7.2h-7.2zM1939.5 1275.8h7.2v7.2h-7.2zM1933.3 1281.9h7.2v7.2h-7.2zM1925.2 1284.6h7.2v7.2h-7.2zM1915.0 1289.1h7.2v7.2h-7.2zM1909.9 1293.1h7.2v7.2h-7.2zM1911.9 1300.3h7.2v7.2h-7.2zM1920.1 1301.3h7.2v7.2h-7.2zM1903.7 1305.8h7.2v7.2h-7.2zM1894.6 1309.5h7.2v7.2h-7.2zM1894.2 1314.6h7.2v7.2h-7.2zM1930.3 1313.5h7.2v7.2h-7.2zM1920.1 1318.6h7.2v7.2h-7.2zM1901.3 1322.7h7.2v7.2h-7.2zM1911.9 1323.3h7.2v7.2h-7.2zM1921.1 1323.7h7.2v7.2h-7.2zM1920.7 1329.9h7.2v7.2h-7.2zM1944.0 1300.3h7.2v7.2h-7.2zM1958.2 1293.5h7.2v7.2h-7.2zM2054.4 1239.4h7.2v7.2h-7.2zM2058.4 1249.4h7.2v7.2h-7.2zM2068.4 1251.4h7.2v7.2h-7.2zM2071.4 1239.4h7.2v7.2h-7.2zM2062.4 1232.4h7.2v7.2h-7.2zM1926.4 1204.4h7.2v7.2h-7.2zM1937.4 1203.4h7.2v7.2h-7.2z" fill="#000"/><path d="M2052.5 1103.2l9.6 9.6M2052.5 1112.8l9.6 -9.6M2049.5 1126.0l9.6 9.6M2049.5 1135.6l9.6 -9.6M2045.4 1139.9l9.6 9.6M2045.4 1149.5l9.6 -9.6M1920.9 1196.0l9.6 9.6M1920.9 1205.6l9.6 -9.6M1929.1 1195.0l9.6 9.6M1929.1 1204.6l9.6 -9.6M1944.4 1185.8l9.6 9.6M1944.4 1195.4l9.6 -9.6M1939.3 1190.9l9.6 9.6M1939.3 1200.5l9.6 -9.6M1949.5 1189.9l9.6 9.6M1949.5 1199.5l9.6 -9.6M1955.6 1193.0l9.6 9.6M1955.6 1202.6l9.6 -9.6M1964.8 1199.1l9.6 9.6M1964.8 1208.7l9.6 -9.6M1917.9 1208.3l9.6 9.6M1917.9 1217.9l9.6 -9.6M1925.0 1209.3l9.6 9.6M1925.0 1218.9l9.6 -9.6M1933.2 1206.2l9.6 9.6M1933.2 1215.8l9.6 -9.6M1941.3 1208.3l9.6 9.6M1941.3 1217.9l9.6 -9.6M1947.4 1206.2l9.6 9.6M1947.4 1215.8l9.6 -9.6M1945.4 1212.3l9.6 9.6M1945.4 1221.9l9.6 -9.6M1931.1 1200.1l9.6 9.6M1931.1 1209.7l9.6 -9.6M1937.2 1198.1l9.6 9.6M1937.2 1207.7l9.6 -9.6M1985.8 1195.0l9.6 9.6M1985.8 1204.6l9.6 -9.6M2004.6 1197.4l9.6 9.6M2004.6 1207.0l9.6 -9.6M2015.8 1209.3l9.6 9.6M2015.8 1218.9l9.6 -9.6M2015.8 1217.4l9.6 9.6M2015.8 1227.0l9.6 -9.6M2017.4 1230.3l9.6 9.6M2017.4 1239.9l9.6 -9.6M2027.0 1229.1l9.6 9.6M2027.0 1238.7l9.6 -9.6M2038.3 1227.0l9.6 9.6M2038.3 1236.6l9.6 -9.6M2067.9 1206.2l9.6 9.6M2067.9 1215.8l9.6 -9.6M2049.5 1214.4l9.6 9.6M2049.5 1224.0l9.6 -9.6M2060.7 1216.4l9.6 9.6M2060.7 1226.0l9.6 -9.6M2069.9 1218.5l9.6 9.6M2069.9 1228.1l9.6 -9.6M2048.5 1221.5l9.6 9.6M2048.5 1231.1l9.6 -9.6M2057.6 1222.5l9.6 9.6M2057.6 1232.1l9.6 -9.6M2063.8 1225.6l9.6 9.6M2063.8 1235.2l9.6 -9.6M2051.5 1226.6l9.6 9.6M2051.5 1236.2l9.6 -9.6M2059.7 1236.8l9.6 9.6M2059.7 1246.4l9.6 -9.6M2054.6 1243.0l9.6 9.6M2054.6 1252.6l9.6 -9.6M2065.8 1241.9l9.6 9.6M2065.8 1251.5l9.6 -9.6M2073.0 1247.0l9.6 9.6M2073.0 1256.6l9.6 -9.6M2055.6 1254.2l9.6 9.6M2055.6 1263.8l9.6 -9.6M2061.7 1256.2l9.6 9.6M2061.7 1265.8l9.6 -9.6M2071.9 1256.2l9.6 9.6M2071.9 1265.8l9.6 -9.6M2058.7 1266.4l9.6 9.6M2058.7 1276.0l9.6 -9.6M2077.0 1273.6l9.6 9.6M2077.0 1283.2l9.6 -9.6M2058.7 1277.6l9.6 9.6M2058.7 1287.2l9.6 -9.6M2064.8 1278.7l9.6 9.6M2064.8 1288.3l9.6 -9.6M2076.0 1288.9l9.6 9.6M2076.0 1298.5l9.6 -9.6M2065.8 1293.0l9.6 9.6M2065.8 1302.6l9.6 -9.6M2070.9 1297.0l9.6 9.6M2070.9 1306.6l9.6 -9.6M2063.4 1304.2l9.6 9.6M2063.4 1313.8l9.6 -9.6M2053.6 1317.4l9.6 9.6M2053.6 1327.0l9.6 -9.6M2059.7 1324.6l9.6 9.6M2059.7 1334.2l9.6 -9.6M2051.8 1366.6l9.6 9.6M2051.8 1376.2l9.6 -9.6M2045.7 1369.5l9.6 9.6M2045.7 1379.1l9.6 -9.6M2043.2 1383.0l9.6 9.6M2043.2 1392.6l9.6 -9.6M2044.2 1420.2l9.6 9.6M2044.2 1429.8l9.6 -9.6M2051.8 1447.2l9.6 9.6M2051.8 1456.8l9.6 -9.6M2047.8 1467.6l9.6 9.6M2047.8 1477.2l9.6 -9.6M1950.5 1228.7l9.6 9.6M1950.5 1238.3l9.6 -9.6M1954.6 1239.9l9.6 9.6M1954.6 1249.5l9.6 -9.6M1943.4 1248.1l9.6 9.6M1943.4 1257.7l9.6 -9.6M1935.2 1252.1l9.6 9.6M1935.2 1261.7l9.6 -9.6M1954.6 1253.2l9.6 9.6M1954.6 1262.8l9.6 -9.6M1930.1 1263.4l9.6 9.6M1930.1 1273.0l9.6 -9.6M1937.2 1265.4l9.6 9.6M1937.2 1275.0l9.6 -9.6M1938.3 1274.6l9.6 9.6M1938.3 1284.2l9.6 -9.6M1932.1 1280.7l9.6 9.6M1932.1 1290.3l9.6 -9.6M1924.0 1283.4l9.6 9.6M1924.0 1293.0l9.6 -9.6M1913.8 1287.9l9.6 9.6M1913.8 1297.5l9.6 -9.6M1908.7 1291.9l9.6 9.6M1908.7 1301.5l9.6 -9.6M1910.7 1299.1l9.6 9.6M1910.7 1308.7l9.6 -9.6M1918.9 1300.1l9.6 9.6M1918.9 1309.7l9.6 -9.6M1902.5 1304.6l9.6 9.6M1902.5 1314.2l9.6 -9.6M1893.4 1308.3l9.6 9.6M1893.4 1317.9l9.6 -9.6M1893.0 1313.4l9.6 9.6M1893.0 1323.0l9.6 -9.6M1929.1 1312.3l9.6 9.6M1929.1 1321.9l9.6 -9.6M1918.9 1317.4l9.6 9.6M1918.9 1327.0l9.6 -9.6M1900.1 1321.5l9.6 9.6M1900.1 1331.1l9.6 -9.6M1910.7 1322.1l9.6 9.6M1910.7 1331.7l9.6 -9.6M1919.9 1322.5l9.6 9.6M1919.9 1332.1l9.6 -9.6M1919.5 1328.7l9.6 9.6M1919.5 1338.3l9.6 -9.6M1942.8 1299.1l9.6 9.6M1942.8 1308.7l9.6 -9.6M1957.0 1292.3l9.6 9.6M1957.0 1301.9l9.6 -9.6M2053.2 1238.2l9.6 9.6M2053.2 1247.8l9.6 -9.6M2057.2 1248.2l9.6 9.6M2057.2 1257.8l9.6 -9.6M2067.2 1250.2l9.6 9.6M2067.2 1259.8l9.6 -9.6M2070.2 1238.2l9.6 9.6M2070.2 1247.8l9.6 -9.6M2061.2 1231.2l9.6 9.6M2061.2 1240.8l9.6 -9.6M1925.2 1203.2l9.6 9.6M1925.2 1212.8l9.6 -9.6M1936.2 1202.2l9.6 9.6M1936.2 1211.8l9.6 -9.6" stroke="#000" stroke-width="2.2" fill="none"/>
<text transform="translate(2021.7 861.2) scale(0.82 1)" font-size="39.4" font-weight="bold" text-anchor="middle" >correlation -0.016</text>
<text transform="translate(1718.06 1545) scale(0.82 1)" font-size="38.5" font-weight="bold" text-anchor="middle" >-4</text>
<text transform="translate(1866.38 1545) scale(0.82 1)" font-size="38.5" font-weight="bold" text-anchor="middle" >-2</text>
<text transform="translate(2017.7 1545) scale(0.82 1)" font-size="38.5" font-weight="bold" text-anchor="middle" >0</text>
<text transform="translate(2166.02 1545) scale(0.82 1)" font-size="38.5" font-weight="bold" text-anchor="middle" >2</text>
<text transform="translate(2314.34 1545) scale(0.82 1)" font-size="38.5" font-weight="bold" text-anchor="middle" >4</text>
<text transform="translate(1711.6 925.2) scale(0.82 1)" font-size="38.5" font-weight="bold" text-anchor="end" >4</text>
<text transform="translate(1711.6 1064.5) scale(0.82 1)" font-size="38.5" font-weight="bold" text-anchor="end" >2</text>
<text transform="translate(1711.6 1212.6) scale(0.82 1)" font-size="38.5" font-weight="bold" text-anchor="end" >0</text>
<text transform="translate(1711.6 1360.7) scale(0.82 1)" font-size="38.5" font-weight="bold" text-anchor="end" >-2</text>
<text transform="translate(1711.6 1495.3) scale(0.82 1)" font-size="38.5" font-weight="bold" text-anchor="end" >-4</text>
<text transform="translate(1834 1586.8) scale(0.82 1)" font-size="39.4" font-weight="bold" text-anchor="start" >IPS Tomography B</text><text transform="translate(2121.7 1594.4) scale(1.08 1)" font-size="17.5" font-weight="bold" text-anchor="start" >z</text><text transform="translate(2139 1586.8) scale(0.82 1)" font-size="39.4" font-weight="bold" text-anchor="start" >(nT)</text>
<g transform="translate(1652 1198.5) rotate(-90)"><text transform="translate(-90.5 0) scale(0.82 1)" font-size="39.4" font-weight="bold" text-anchor="start" >ACE B</text><text transform="translate(9.3 10) scale(0.82 1)" font-size="24.4" font-weight="bold" text-anchor="start" >z</text><text transform="translate(27.5 0) scale(0.82 1)" font-size="39.4" font-weight="bold" text-anchor="start" >(nT)</text></g>
</g>
<g shape-rendering="crispEdges">
<path d="M3 208.5H26M3 400.5H26M3 592.5H26" stroke="#000" stroke-width="3"/>
<rect x="8" y="16" width="13" height="96" fill="#001e00"/>
<rect x="8" y="112" width="13" height="96" fill="#003a00"/>
<rect x="8" y="208" width="13" height="96" fill="#005800"/>
<rect x="8" y="304" width="13" height="96" fill="#1a7300"/>
<rect x="8" y="400" width="13" height="96" fill="#468e04"/>
<rect x="8" y="496" width="13" height="96" fill="#77ab00"/>
<rect x="8" y="592" width="13" height="96" fill="#a5c73a"/>
<rect x="8" y="688" width="13" height="96" fill="#d3e5a1"/>
</g>
<g shape-rendering="crispEdges">
<path d="M3 1008.5H26M3 1200.5H26M3 1392.5H26" stroke="#000" stroke-width="3"/>
<rect x="8" y="816" width="13" height="96" fill="#001e00"/>
<rect x="8" y="912" width="13" height="96" fill="#003a00"/>
<rect x="8" y="1008" width="13" height="96" fill="#005800"/>
<rect x="8" y="1104" width="13" height="96" fill="#1a7300"/>
<rect x="8" y="1200" width="13" height="96" fill="#468e04"/>
<rect x="8" y="1296" width="13" height="96" fill="#77ab00"/>
<rect x="8" y="1392" width="13" height="96" fill="#a5c73a"/>
<rect x="8" y="1488" width="13" height="96" fill="#d3e5a1"/>
</g>
<g shape-rendering="crispEdges">
<path d="M806 208H851M806 400H851M806 592H851" stroke="#000" stroke-width="3.8"/>
<rect x="816" y="16" width="25" height="96" fill="#001e00"/>
<rect x="816" y="112" width="25" height="96" fill="#003a00"/>
<rect x="816" y="208" width="25" height="96" fill="#005800"/>
<rect x="816" y="304" width="25" height="96" fill="#1a7300"/>
<rect x="816" y="400" width="25" height="96" fill="#468e04"/>
<rect x="816" y="496" width="25" height="96" fill="#77ab00"/>
<rect x="816" y="592" width="25" height="96" fill="#a5c73a"/>
<rect x="816" y="688" width="25" height="96" fill="#d3e5a1"/>
</g>
<text transform="scale(0.9 1)" x="54.4 78.5 103.2 127.4 153.8 172.9 188.6 210.5 231.8" y="41.0" font-size="32" text-anchor="middle" stroke="#000" stroke-width="0.8">GONG-ISEE</text><rect x="128.1" y="30.8" width="20.6" height="3.3" fill="#000"/>
<text x="482.8 503.0 523.2 543.5 560.9 585.9 606.2 623.5 648.6 668.8 687.0 705.2 725.4 743.6 762.9 782.1" y="41.0 41.0 41.0 41.0 47.4 41.0 41.0 47.4 41.0 41.0 41.0 41.0 41.0 41.0 41.0 41.0" font-size="32" text-anchor="middle" stroke="#000" stroke-width="0.8">2026<tspan font-size="47.0" rotate="12">/</tspan>02<tspan font-size="47.0" rotate="12">/</tspan>03 15 UT</text>
<text x="48.9" y="792.6" font-size="32" text-anchor="middle" stroke="#000" stroke-width="0.8">B</text>
<text x="64.9" y="799.6" font-size="21.12" text-anchor="middle" stroke="#000" stroke-width="1">z</text>
<text transform="scale(1.12 1)" x="58.5 69.1 78.1 90.1" y="776.4" font-size="17.28" text-anchor="middle" stroke="#000" stroke-width="0.9" font-weight="bold">norm</text>
<text x="133.6 150.2 167.9 183.1" y="792.6" font-size="32" text-anchor="middle" stroke="#000" stroke-width="0.8">(nT)</text>
<text transform="scale(0.9 1)" x="675.4 700.2 724.9 743.1 772.0 796.2 819.2 842.3" y="792.6 792.6 792.6 799.0 792.6 792.6 792.6 792.6" font-size="32" text-anchor="middle" stroke="#000" stroke-width="0.8">A&amp;A<tspan font-size="47.0" rotate="12">/</tspan>UCSD</text>
<text x="38.7" y="207.6" font-size="29.5" text-anchor="middle" stroke="#000" stroke-width="0.8">1</text>
<text x="38.7" y="399.6" font-size="29.5" text-anchor="middle" stroke="#000" stroke-width="0.8">0</text>
<text x="41.7 65.0" y="591.6" font-size="29.5" text-anchor="middle" stroke="#000" stroke-width="0.8">-1</text><rect x="31.4" y="582.2" width="20.6" height="3.1" fill="#000"/>
<text transform="scale(0.9 1)" x="54.4 78.5 103.2 127.4 153.8 172.9 188.6 210.5 231.8 251.5 271.2 291.9 311.0 331.3 353.7 376.2" y="841.0" font-size="32" text-anchor="middle" stroke="#000" stroke-width="0.8">GONG-ISEE EA 000</text><rect x="128.1" y="830.8" width="20.6" height="3.3" fill="#000"/>
<text x="482.8 503.0 523.2 543.5 560.9 585.9 606.2 623.5 648.6 668.8 687.0 705.2 725.4 743.6 762.9 782.1" y="841.0 841.0 841.0 841.0 847.4 841.0 841.0 847.4 841.0 841.0 841.0 841.0 841.0 841.0 841.0 841.0" font-size="32" text-anchor="middle" stroke="#000" stroke-width="0.8">2026<tspan font-size="47.0" rotate="12">/</tspan>02<tspan font-size="47.0" rotate="12">/</tspan>03 15 UT</text>
<text x="48.9" y="1592.6" font-size="32" text-anchor="middle" stroke="#000" stroke-width="0.8">B</text>
<text x="64.9" y="1599.6" font-size="21.12" text-anchor="middle" stroke="#000" stroke-width="1">z</text>
<text transform="scale(1.12 1)" x="58.5 69.1 78.1 90.1" y="1576.4" font-size="17.28" text-anchor="middle" stroke="#000" stroke-width="0.9" font-weight="bold">norm</text>
<text x="133.6 150.2 167.9 183.1" y="1592.6" font-size="32" text-anchor="middle" stroke="#000" stroke-width="0.8">(nT)</text>
<text transform="scale(0.9 1)" x="675.4 700.2 724.9 743.1 772.0 796.2 819.2 842.3" y="1592.6 1592.6 1592.6 1599.0 1592.6 1592.6 1592.6 1592.6" font-size="32" text-anchor="middle" stroke="#000" stroke-width="0.8">A&amp;A<tspan font-size="47.0" rotate="12">/</tspan>UCSD</text>
<text x="38.7" y="1007.6" font-size="29.5" text-anchor="middle" stroke="#000" stroke-width="0.8">1</text>
<text x="38.7" y="1199.6" font-size="29.5" text-anchor="middle" stroke="#000" stroke-width="0.8">0</text>
<text x="41.7 65.0" y="1391.6" font-size="29.5" text-anchor="middle" stroke="#000" stroke-width="0.8">-1</text><rect x="31.4" y="1382.2" width="20.6" height="3.1" fill="#000"/>
<text x="889.6" y="40.6" font-size="35" text-anchor="middle" stroke="#000" stroke-width="0.8">B</text>
<text x="907.1" y="48.6" font-size="23.1" text-anchor="middle" stroke="#000" stroke-width="1">z</text>
<text transform="scale(1.12 1)" x="810.6 822.2 832.0 845.2" y="23.2" font-size="18.9" text-anchor="middle" stroke="#000" stroke-width="0.9" font-weight="bold">norm</text>
<text x="982.5 1000.8 1020.2 1036.8 1053.5 1072.9 1090.1 1105.6 1125.6 1142.2 1158.8 1181.0 1201.0 1219.8 1242.0" y="40.6" font-size="35" text-anchor="middle" stroke="#000" stroke-width="0.8">(nT) at 0.99 AU</text>
<text x="2045.7 2067.9 2090.1 2112.2 2131.3 2158.8 2181.0 2200.1 2227.6 2249.7 2269.7 2289.7 2311.8 2331.8 2352.9 2374.0" y="40.6 40.6 40.6 40.6 47.6 40.6 40.6 47.6 40.6 40.6 40.6 40.6 40.6 40.6 40.6 40.6" font-size="35" text-anchor="middle" stroke="#000" stroke-width="0.8">2026<tspan font-size="51.4" rotate="12">/</tspan>02<tspan font-size="51.4" rotate="12">/</tspan>03 15 UT</text>
<text transform="scale(0.9 1)" x="988.5 1015.0 1042.1 1068.6 1097.5 1118.5 1135.7 1159.8 1183.2" y="791.6" font-size="35" text-anchor="middle" stroke="#000" stroke-width="0.8">GONG-ISEE</text><rect x="976.6" y="780.5" width="22.4" height="3.6" fill="#000"/>
<text transform="scale(0.9 1)" x="2408.8 2435.9 2463.0 2483.0 2514.7 2541.2 2566.5 2591.8" y="791.6 791.6 791.6 798.6 791.6 791.6 791.6 791.6" font-size="35" text-anchor="middle" stroke="#000" stroke-width="0.8">A&amp;A<tspan font-size="51.4" rotate="12">/</tspan>UCSD</text>
<text x="868.7" y="207.6" font-size="35" text-anchor="middle" stroke="#000" stroke-width="0.8">1</text>
<text x="868.7" y="399.6" font-size="35" text-anchor="middle" stroke="#000" stroke-width="0.8">0</text>
<text x="872.0 897.5" y="591.6" font-size="35" text-anchor="middle" stroke="#000" stroke-width="0.8">-1</text><rect x="860.8" y="580.5" width="22.4" height="3.6" fill="#000"/>
<text x="1012.7 1034.9" y="117.6" font-size="35" text-anchor="middle" stroke="#000" stroke-width="0.8">90</text>
<text x="1012.7 1034.9" y="209.2" font-size="35" text-anchor="middle" stroke="#000" stroke-width="0.8">60</text>
<text x="1012.7 1034.9" y="310.6" font-size="35" text-anchor="middle" stroke="#000" stroke-width="0.8">30</text>
<text x="1034.9" y="411.0" font-size="35" text-anchor="middle" stroke="#000" stroke-width="0.8">0</text>
<text x="987.2 1012.7 1034.9" y="513.0" font-size="35" text-anchor="middle" stroke="#000" stroke-width="0.8">-30</text><rect x="976.0" y="501.9" width="22.4" height="3.6" fill="#000"/>
<text x="987.2 1012.7 1034.9" y="614.5" font-size="35" text-anchor="middle" stroke="#000" stroke-width="0.8">-60</text><rect x="976.0" y="603.4" width="22.4" height="3.6" fill="#000"/>
<text x="987.2 1012.7 1034.9" y="705.0" font-size="35" text-anchor="middle" stroke="#000" stroke-width="0.8">-90</text><rect x="976.0" y="693.9" width="22.4" height="3.6" fill="#000"/>
<text x="1125.9 1148.1" y="749.8" font-size="35" text-anchor="middle" stroke="#000" stroke-width="0.8">60</text>
<text x="1227.3 1249.5" y="749.8" font-size="35" text-anchor="middle" stroke="#000" stroke-width="0.8">90</text>
<text x="1317.6 1339.7 1361.9" y="749.8" font-size="35" text-anchor="middle" stroke="#000" stroke-width="0.8">120</text>
<text x="1418.9 1441.1 1463.3" y="749.8" font-size="35" text-anchor="middle" stroke="#000" stroke-width="0.8">150</text>
<text x="1520.3 1542.5 1564.7" y="749.8" font-size="35" text-anchor="middle" stroke="#000" stroke-width="0.8">180</text>
<text x="1621.7 1643.8 1666.0" y="749.8" font-size="35" text-anchor="middle" stroke="#000" stroke-width="0.8">210</text>
<text x="1723.0 1745.2 1767.4" y="749.8" font-size="35" text-anchor="middle" stroke="#000" stroke-width="0.8">240</text>
<text x="1824.4 1846.6 1868.8" y="749.8" font-size="35" text-anchor="middle" stroke="#000" stroke-width="0.8">270</text>
<text x="1925.8 1948.0 1970.1" y="749.8" font-size="35" text-anchor="middle" stroke="#000" stroke-width="0.8">300</text>
<text x="2027.1 2049.3 2071.5" y="749.8" font-size="35" text-anchor="middle" stroke="#000" stroke-width="0.8">330</text>
<text x="2150.7" y="749.8" font-size="35" text-anchor="middle" stroke="#000" stroke-width="0.8">0</text>
<text x="2241.0 2263.2" y="749.8" font-size="35" text-anchor="middle" stroke="#000" stroke-width="0.8">30</text>
</svg>
</body></html>
